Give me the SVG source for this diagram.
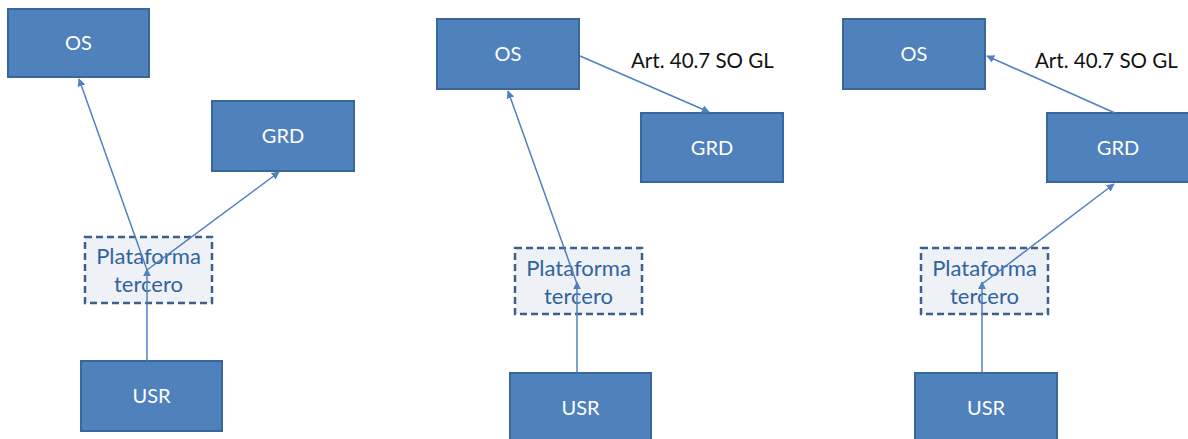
<svg xmlns="http://www.w3.org/2000/svg" width="1188" height="439" viewBox="0 0 1188 439">
<style>
.box{fill:#4f81bd;stroke:#3a669b;stroke-width:2}
.plat{fill:#eef1f5;stroke:#3e5f8d;stroke-width:2.5;stroke-dasharray:7 4}
.wt{font-family:Lato,"Liberation Sans",sans-serif;font-size:20px;fill:#ffffff;text-anchor:middle}
.pt{font-family:Lato,"Liberation Sans",sans-serif;font-size:22px;fill:#2f64a0;text-anchor:middle}
.lbl{font-family:Lato,"Liberation Sans",sans-serif;font-size:20.5px;fill:#111111}
.conn line{stroke:#5080bf;stroke-width:1.5;fill:none}
</style>
<defs>
<marker id="ah" viewBox="0 0 10 10" refX="9" refY="5" markerWidth="8" markerHeight="8" markerUnits="userSpaceOnUse" orient="auto">
<path d="M0,0 L10,5 L0,10 Z" fill="#5080bf"/>
</marker>
</defs>
<rect width="1188" height="439" fill="#ffffff"/>
<!-- Panel 1 -->
<g id="p1-os"><rect class="box" x="8" y="9" width="141" height="68"/><text class="wt" x="78.5" y="50">OS</text></g>
<g id="p1-grd"><rect class="box" x="212" y="101" width="142" height="70"/><text class="wt" x="283" y="143">GRD</text></g>
<g id="p1-plat"><rect class="plat" x="85" y="237" width="127" height="66"/><text class="pt" x="148.5" y="264">Plataforma</text><text class="pt" x="148.5" y="292">tercero</text></g>
<g id="p1-usr"><rect class="box" x="81" y="361" width="141" height="70"/><text class="wt" x="151.5" y="403">USR</text></g>
<!-- Panel 2 -->
<g id="p2-os"><rect class="box" x="437" y="19" width="142" height="70"/><text class="wt" x="508" y="61">OS</text></g>
<g id="p2-grd"><rect class="box" x="641" y="113" width="142" height="69"/><text class="wt" x="712" y="155">GRD</text></g>
<g id="p2-plat"><rect class="plat" x="515" y="248" width="127" height="66"/><text class="pt" x="578.5" y="276">Plataforma</text><text class="pt" x="578.5" y="304">tercero</text></g>
<g id="p2-usr"><rect class="box" x="510" y="373" width="141" height="70"/><text class="wt" x="580.5" y="415">USR</text></g>
<g id="p2-label"><text class="lbl" x="631" y="68">Art. 40.7 SO GL</text></g>
<!-- Panel 3 -->
<g id="p3-os"><rect class="box" x="843" y="19" width="142" height="70"/><text class="wt" x="914" y="61">OS</text></g>
<g id="p3-grd"><rect class="box" x="1047" y="113" width="145" height="69"/><text class="wt" x="1118" y="155">GRD</text></g>
<g id="p3-plat"><rect class="plat" x="921" y="248" width="127" height="66"/><text class="pt" x="984.5" y="276">Plataforma</text><text class="pt" x="984.5" y="304">tercero</text></g>
<g id="p3-usr"><rect class="box" x="915" y="373" width="142" height="70"/><text class="wt" x="986" y="415">USR</text></g>
<g id="p3-label"><text class="lbl" x="1035" y="68">Art. 40.7 SO GL</text></g>
<g id="connectors" class="conn">
<line x1="147" y1="361" x2="147" y2="269" marker-end="url(#ah)"/>
<line x1="147" y1="270" x2="79" y2="79" marker-end="url(#ah)"/>
<line x1="147" y1="270" x2="279" y2="172" marker-end="url(#ah)"/>
<line x1="577" y1="373" x2="577" y2="282" marker-end="url(#ah)"/>
<line x1="577" y1="284" x2="508" y2="91" marker-end="url(#ah)"/>
<line x1="580" y1="56" x2="709" y2="112" marker-end="url(#ah)"/>
<line x1="982" y1="373" x2="982" y2="282" marker-end="url(#ah)"/>
<line x1="982" y1="284" x2="1114" y2="184" marker-end="url(#ah)"/>
<line x1="1115" y1="113" x2="987" y2="56" marker-end="url(#ah)"/>
</g>
</svg>
